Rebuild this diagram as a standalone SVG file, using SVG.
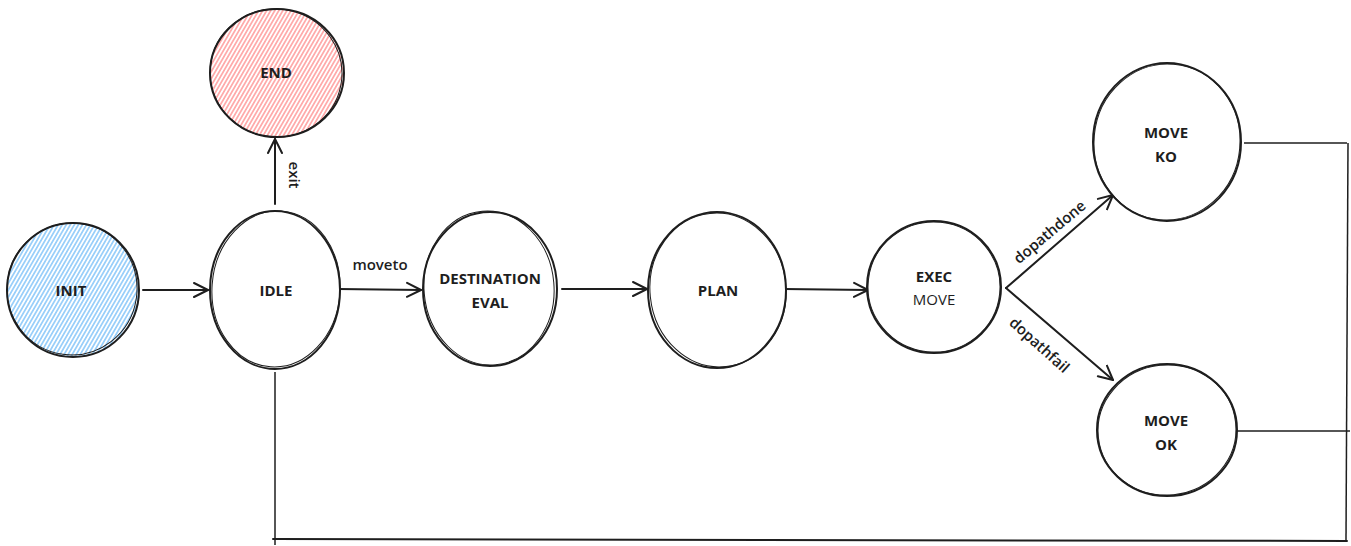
<svg xmlns="http://www.w3.org/2000/svg" width="1351" height="546" viewBox="0 0 1351 546">
<style>
.n{fill:#fff;stroke:#1e1e1e;stroke-width:2}
.n2{fill:none;stroke:#1e1e1e;stroke-width:1}
.t{font-family:"Open Sans","Liberation Sans",sans-serif;font-size:15px;font-weight:700;fill:#1e1e1e;text-anchor:middle}
.l{font-family:"Open Sans","Liberation Sans",sans-serif;font-size:15px;font-weight:600;fill:#1e1e1e;text-anchor:middle}
.c{fill:none;stroke:#1e1e1e;stroke-width:2;stroke-linecap:round}
.c1{fill:none;stroke:#1e1e1e;stroke-width:1.5}
</style>
<defs>
<pattern id="hr" width="3.5" height="5" patternUnits="userSpaceOnUse" patternTransform="rotate(30)">
<line x1="1.75" y1="0" x2="1.75" y2="5" stroke="#ff6b6b" stroke-width="1"/>
</pattern>
<pattern id="hb" width="3.5" height="5" patternUnits="userSpaceOnUse" patternTransform="rotate(30)">
<line x1="1.75" y1="0" x2="1.75" y2="5" stroke="#4dabf7" stroke-width="1"/>
</pattern>
<marker id="a" viewBox="0 0 16 18" refX="15" refY="9" markerWidth="16" markerHeight="18" markerUnits="userSpaceOnUse" orient="auto">
<path d="M1,2 L15,9 L1,16" fill="none" stroke="#1e1e1e" stroke-width="2" stroke-linecap="round" stroke-linejoin="round"/>
</marker>
</defs>

<g id="connectors">
<line class="c" x1="143" y1="290" x2="208" y2="290" marker-end="url(#a)"/>
<line class="c" x1="338" y1="289" x2="421" y2="290" marker-end="url(#a)"/>
<line class="c" x1="562" y1="289" x2="647" y2="289" marker-end="url(#a)"/>
<line class="c" x1="784" y1="289" x2="868" y2="290" marker-end="url(#a)"/>
<line class="c" x1="1006" y1="288" x2="1113" y2="195" marker-end="url(#a)"/>
<line class="c" x1="1006" y1="288" x2="1113" y2="380" marker-end="url(#a)"/>
<line class="c" x1="275" y1="204" x2="275" y2="139" marker-end="url(#a)"/>
<line class="c1" x1="1244" y1="143" x2="1347" y2="143"/>
<line class="c1" x1="1348" y1="143" x2="1346" y2="541"/>
<line class="c1" x1="1237" y1="431" x2="1350" y2="431"/>
<line class="c" x1="273" y1="539" x2="1347" y2="541"/>
<line class="c1" x1="275" y1="372" x2="275" y2="545"/>
<text class="l" x="380" y="270">moveto</text>
<text class="l" transform="translate(289,175) rotate(90)">exit</text>
<text class="l" transform="translate(1053,236) rotate(-40)">dopathdone</text>
<text class="l" transform="translate(1036,349) rotate(42)">dopathfail</text>
</g>

<g id="init">
<ellipse class="n" cx="73" cy="290" rx="66" ry="67" style="fill:url(#hb)"/>
<ellipse class="n2" cx="72" cy="289" rx="65" ry="66" transform="rotate(8 72 289)"/>
<text class="t" x="71" y="296">INIT</text>
</g>
<g id="end">
<ellipse class="n" cx="277" cy="73" rx="67" ry="64" style="fill:url(#hr)"/>
<ellipse class="n2" cx="276" cy="73" rx="66" ry="64" transform="rotate(10 276 73)"/>
<text class="t" x="276" y="78">END</text>
</g>
<g id="idle">
<ellipse class="n" cx="275" cy="290" rx="65" ry="79"/>
<ellipse class="n2" cx="276" cy="289" rx="64" ry="78" transform="rotate(4 276 289)"/>
<text class="t" x="276" y="296">IDLE</text>
</g>
<g id="destination-eval">
<ellipse class="n" cx="490" cy="289" rx="67" ry="77"/>
<ellipse class="n2" cx="489" cy="288" rx="65" ry="77" transform="rotate(-5 489 288)"/>
<text class="t" x="490" y="284">DESTINATION</text>
<text class="t" x="490" y="308">EVAL</text>
</g>
<g id="plan">
<ellipse class="n" cx="717" cy="290" rx="69" ry="78"/>
<ellipse class="n2" cx="718" cy="290" rx="68" ry="77" transform="rotate(-6 718 290)"/>
<text class="t" x="718" y="296">PLAN</text>
</g>
<g id="exec-move">
<ellipse class="n" cx="934" cy="287" rx="67" ry="66"/>
<ellipse class="n2" cx="934" cy="287" rx="66" ry="65" transform="rotate(6 934 287)"/>
<text class="t" x="934" y="282">EXEC</text>
<text class="t" x="934" y="305" style="font-weight:400">MOVE</text>
</g>
<g id="move-ko">
<ellipse class="n" cx="1167" cy="142" rx="74" ry="79"/>
<ellipse class="n2" cx="1167" cy="142" rx="73" ry="78" transform="rotate(5 1167 142)"/>
<text class="t" x="1166" y="138">MOVE</text>
<text class="t" x="1166" y="162">KO</text>
</g>
<g id="move-ok">
<ellipse class="n" cx="1167" cy="430" rx="70" ry="66"/>
<ellipse class="n2" cx="1167" cy="430" rx="69" ry="65" transform="rotate(-6 1167 430)"/>
<text class="t" x="1166" y="426">MOVE</text>
<text class="t" x="1166" y="450">OK</text>
</g>
</svg>
